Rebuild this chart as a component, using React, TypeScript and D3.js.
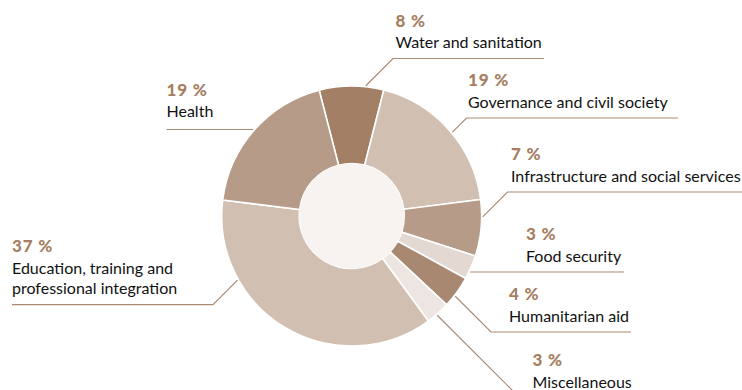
import React from "react";
import * as d3 from "d3";

const categories = [
  "Water and sanitation",
  "Governance and civil society",
  "Infrastructure and social services",
  "Food security",
  "Humanitarian aid",
  "Miscellaneous",
  "Education, training and|professional integration",
  "Health",
];
const values = [8, 19, 7, 3, 4, 3, 37, 19];
const pctLabels = ["8 %", "19 %", "7 %", "3 %", "4 %", "3 %", "37 %", "19 %"];
const colors = ["#a27f65", "#d1bfb2", "#b59b88", "#e3d8d2", "#a98871", "#ece5e1", "#d1bfb2", "#b69b89"];

// label layout (positions only)
const layout = [
  { tx: 395.5, py: 26.5, lx0: 393, lx1: 544, dir: [-1, 1], gap: 10.5 },
  { tx: 468, py: 86, lx0: 466.5, lx1: 678, dir: [-1, 1], gap: 10.5 },
  { tx: 511, py: 160, lx0: 507.5, lx1: 745, dir: [-1, 1], gap: 10.5 },
  { tx: 526, py: 240, lx0: 624, lx1: 624, dir: [-1, 0], gap: 10.5 },
  { tx: 509, py: 300, lx0: 491, lx1: 631, dir: [-1, -1], gap: 10.5 },
  { tx: 532.5, py: 366, lx0: 520, lx1: 640, dir: [-1, -1], gap: 10.5 },
  { tx: 12, py: 252, lx0: 213, lx1: 12, dir: [1, -1], gap: 10.5 },
  { tx: 166.5, py: 95.5, lx0: 166.5, lx1: 166.5, dir: [1, 0], gap: 12.5 },
];

const W = 742;
const H = 390;
const cx = 351.7;
const cy = 216;
const rOuter = 130;
const rInner = 52.5;
const rLeader = 131;

export default function App() {
  const pie = d3
    .pie<number>()
    .sort(null)
    .startAngle((-14.5 * Math.PI) / 180)
    .endAngle((-14.5 * Math.PI) / 180 + 2 * Math.PI);
  const arcs = pie(values);
  const arc = d3.arc<d3.PieArcDatum<number>>().innerRadius(rInner).outerRadius(rOuter);

  const lineColor = "#a98a74";
  const pctColor = "#a67f62";

  const leaders = layout.map((l, i) => {
    const nLines = categories[i].split("|").length;
    const ly = l.py + 21.5 + (nLines - 1) * 20.7 + l.gap;
    const sx = l.lx0;
    const ex = l.lx1;
    const len = Math.hypot(l.dir[0], l.dir[1]);
    const dx = l.dir[0] / len;
    const dy = l.dir[1] / len;
    const ox = sx - cx;
    const oy = ly - cy;
    const b = dx * ox + dy * oy;
    const c = ox * ox + oy * oy - rLeader * rLeader;
    const disc = Math.max(0, b * b - c);
    const t = -b - Math.sqrt(disc);
    const px = sx + t * dx;
    const py = ly + t * dy;
    const points: [number, number][] =
      l.dir[1] === 0
        ? [
            [sx, ly],
            [px, py],
          ]
        : [
            [ex, ly],
            [sx, ly],
            [px, py],
          ];
    return { points };
  });

  const lineGen = d3.line();

  return (
    <svg width={W} height={H} style={{ position: "absolute", left: 0, top: 0, background: "#fff" }}>
      <g>
        {arcs.map((a, i) => (
          <path
            key={i}
            d={arc(a) || ""}
            transform={`translate(${cx},${cy})`}
            fill={colors[i]}
            stroke="#ffffff"
            strokeWidth={1.6}
          />
        ))}
        <circle cx={cx} cy={cy} r={rInner} fill="#f7f3f1" />
      </g>
      <g>
        {leaders.map((ld, i) => (
          <path key={i} d={lineGen(ld.points) || ""} fill="none" stroke={lineColor} strokeWidth={1.2} />
        ))}
      </g>
      <g fontFamily="Lato, 'Open Sans', sans-serif">
        {layout.map((l, i) => {
          const lines = categories[i].split("|");
          return (
            <g key={i}>
              <text x={l.tx} y={l.py} fill={pctColor} fontWeight={900} fontSize={17} letterSpacing={0.8}>
                {pctLabels[i]}
              </text>
              {lines.map((s, j) => (
                <text key={j} x={l.tx} y={l.py + 21.5 + j * 20.7} fill="#111111" fontSize={16}>
                  {s}
                </text>
              ))}
            </g>
          );
        })}
      </g>
    </svg>
  );
}
